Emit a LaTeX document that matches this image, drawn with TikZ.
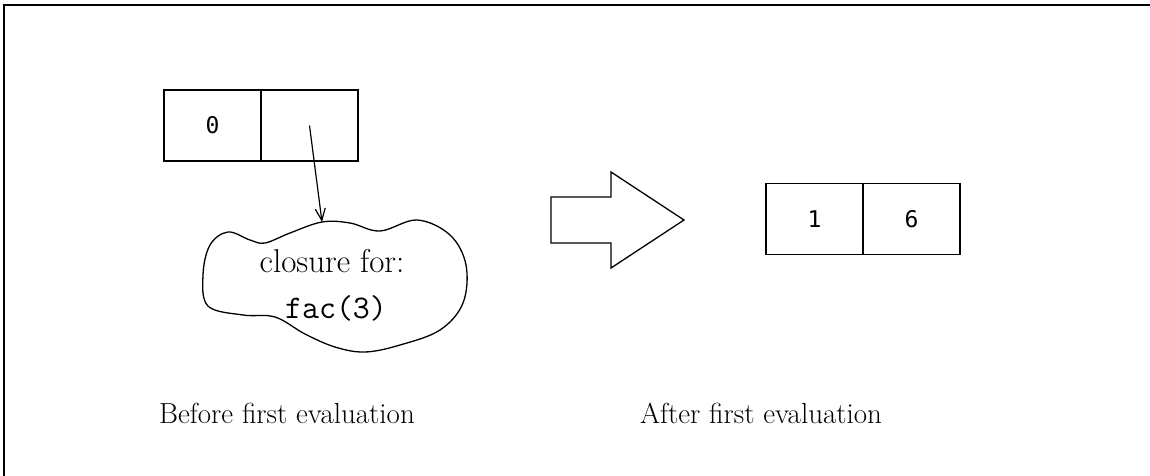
\documentclass[tikz,border=0pt]{standalone}
\usepackage{fontspec}
\newfontfamily\cellfont{DejaVu Sans Mono}
\usetikzlibrary{arrows.meta, positioning}

\begin{document}
\begin{tikzpicture}[x=1pt, y=-1pt, node distance=0pt,
        cell/.style={rectangle, draw, line width=1.3pt, minimum width=97pt, minimum height=71pt, inner sep=0pt, font=\cellfont\fontsize{23}{27}\selectfont},
        caption/.style={font=\fontsize{29}{34}\selectfont, inner sep=0pt},
        line/.style={draw, line width=1.2pt, -{Straight Barb[length=12pt, width=10pt, line width=1.2pt]}}]
        \useasboundingbox (0,0) rectangle (1150,476);

        % page frame
        \draw[line width=2pt] (4,476) -- (4,5.5) -- (1150,5.5);

        % before: cell pair and closure
        \node [cell] (zero) at (212.5,125.5) {0};
        \node [cell, right=of zero, xshift=-1.3pt] (ptr) {};
        \draw[line width=1.3pt] plot[smooth cycle, tension=0.6] coordinates {
            (203,275) (210,245) (228,232) (250,240) (265,243) (290,233) (322,222)
            (350,223) (380,231) (417,220) (450,235) (466,265) (463,303) (440,330)
            (400,345) (365,352) (335,347) (305,334) (275,317) (243,315) (208,306)};
        \coordinate (cloudtop) at (322,222);
        \node [font=\fontsize{33}{38}\selectfont, inner sep=0pt] (closure) at (332,261) {closure for:};
        \node [font=\ttfamily\fontsize{33}{38}\selectfont, inner sep=0pt] (fac) at (336,308) {fac(3)};
        \path [line] (ptr.center) -- (cloudtop);

        % transition arrow
        \draw[line width=1.3pt, line join=miter] (551,197) -- (611,197) -- (611,172) -- (684,220)
            -- (611,268) -- (611,243) -- (551,243) -- cycle;

        % after: cell pair
        \node [cell] (one) at (814.5,219) {1};
        \node [cell, right=of one, xshift=-1.3pt] (six) {6};

        % captions
        \node [caption] (before) at (287,413) {Before first evaluation};
        \node [caption] (after) at (761,413) {After first evaluation};
    \end{tikzpicture}
\end{document}
